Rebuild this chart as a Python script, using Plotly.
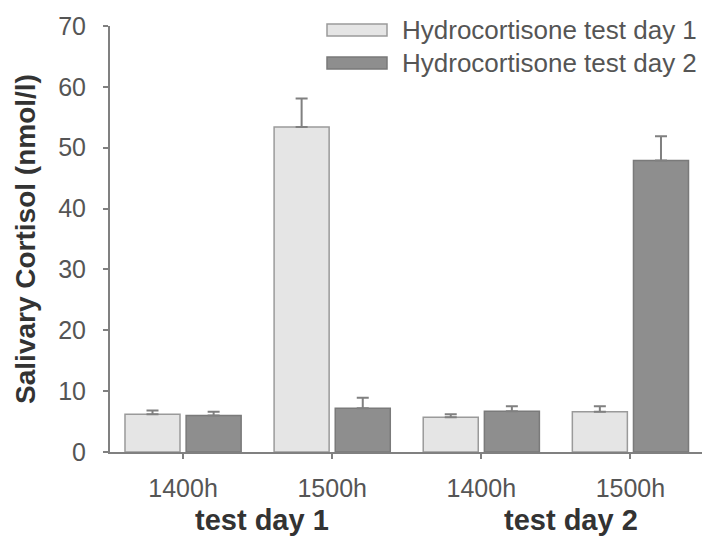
import plotly.graph_objects as go

time_labels = ["1400h", "1500h", "1400h", "1500h"]
day_labels = ["test day 1", "test day 2"]
series_names = ["Hydrocortisone test day 1", "Hydrocortisone test day 2"]
day1_values = [6.2, 53.4, 5.7, 6.6]
day1_err = [0.6, 4.7, 0.5, 0.9]
day2_values = [6.0, 7.2, 6.7, 47.9]
day2_err = [0.6, 1.7, 0.8, 4.0]

x_pos = list(range(len(time_labels)))
FONT = "Liberation Sans, Arial, sans-serif"

fig = go.Figure()
fig.add_trace(go.Bar(
    x=x_pos, y=day1_values, name=series_names[0],
    marker=dict(color="#e5e5e5", line=dict(color="#9a9a9a", width=1.5)),
    error_y=dict(type="data", array=day1_err, arrayminus=[0]*4, symmetric=False,
                 color="#808080", thickness=2, width=6),
    showlegend=False,
))
fig.add_trace(go.Bar(
    x=x_pos, y=day2_values, name=series_names[1],
    marker=dict(color="#8e8e8e", line=dict(color="#7a7a7a", width=1.5)),
    error_y=dict(type="data", array=day2_err, arrayminus=[0]*4, symmetric=False,
                 color="#808080", thickness=2, width=6),
    showlegend=False,
))

# custom legend (wide swatches)
swatch_colors = [("#e5e5e5", "#9a9a9a"), ("#8e8e8e", "#7a7a7a")]
legend_y = [30, 63]
for (fill, line), yc, name in zip(swatch_colors, legend_y, series_names):
    fig.add_shape(type="rect", xref="paper", yref="paper",
                  x0=(327 - 110) / 592, x1=(387 - 110) / 592,
                  y0=1 - (yc + 6 - 26) / 426,
                  y1=1 - (yc - 6 - 26) / 426,
                  fillcolor=fill, line=dict(color=line, width=1.5))
    fig.add_annotation(xref="paper", yref="paper", x=(400 - 110) / 592,
                       y=1 - (yc - 26) / 426, text=name, showarrow=False,
                       xanchor="left", yanchor="middle",
                       font=dict(family=FONT, size=26, color="#555555"))

for label, xc in zip(day_labels, [0.53, 2.6]):
    fig.add_annotation(xref="x", yref="paper", x=xc, y=-(520 - 452) / 426,
                       text="<b>" + label + "</b>", showarrow=False,
                       xanchor="center", yanchor="middle",
                       font=dict(family=FONT, size=29, color="#333333"))

fig.update_layout(
    width=702, height=536,
    margin=dict(l=110, r=0, t=26, b=84),
    paper_bgcolor="white", plot_bgcolor="white",
    barmode="group", bargap=0.18, bargroupgap=0.1,
    font=dict(family=FONT, color="#555555"),
    xaxis=dict(
        range=[-0.49, 3.48], tickmode="array", tickvals=x_pos, ticktext=time_labels,
        showline=True, linecolor="#808080", linewidth=2,
        ticks="outside", ticklen=5, tickcolor="#808080", tickwidth=1.5,
        showgrid=False, zeroline=False,
        tickfont=dict(family=FONT, size=25, color="#555555"),
        ticklabelstandoff=8,
    ),
    yaxis=dict(
        range=[0, 70], tickvals=[0, 10, 20, 30, 40, 50, 60, 70],
        showline=True, linecolor="#808080", linewidth=2,
        ticks="outside", ticklen=5, tickcolor="#808080", tickwidth=1.5,
        showgrid=False, zeroline=False,
        tickfont=dict(family=FONT, size=25, color="#555555"),
        ticklabelstandoff=12,
        title=dict(text="<b>Salivary Cortisol (nmol/l)</b>", standoff=14,
                   font=dict(family=FONT, size=28, color="#333333")),
    ),
)

fig.write_html("out.html")
